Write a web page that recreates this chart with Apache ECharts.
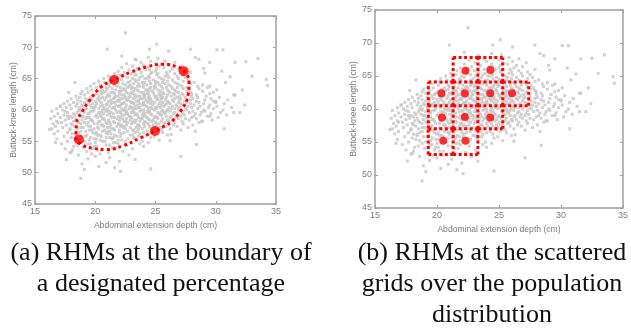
<!DOCTYPE html>
<html>
<head>
<meta charset="utf-8">
<script src="https://cdn.jsdelivr.net/npm/echarts@6/dist/echarts.min.js"></script>
<style>
  html, body { margin: 0; padding: 0; background: #fff; }
  #chart { width: 631px; height: 331px; }
</style>
</head>
<body>
<div id="chart"></div>
<script>
// axis ticks (both panels share them)
const xTicks = [15, 20, 25, 30, 35];
const yTicks = [45, 50, 55, 60, 65, 70, 75];
const xName = 'Abdominal extension depth (cm)';
const yName = 'Buttock-knee length (cm)';
const captions = [
  '(a) RHMs at the boundary of\na designated percentage',
  '(b) RHMs at the scattered\ngrids over the population\ndistribution'
];

// population cloud: [buttock-knee length, [abdominal depths]]
const popRows = [
  [51.0, [20.3]],
  [51.4, [18.9]],
  [51.8, [22.0]],
  [52.2, [19.4]],
  [52.4, [21.2]],
  [52.6, [20.0]],
  [52.8, [18.6, 22.8]],
  [53.0, [19.7, 20.4]],
  [53.2, [17.9, 21.1]],
  [53.4, [19.3, 22.3]],
  [53.6, [18.1, 20.2, 20.5]],
  [53.8, [17.5, 19.8, 23.1]],
  [54.0, [19.0, 21.4, 21.7]],
  [54.2, [18.2, 19.9, 20.1, 24.0]],
  [54.4, [18.5, 20.9, 21.2, 22.6]],
  [54.6, [17.2, 19.4, 19.6, 21.9, 23.7]],
  [54.8, [18.8, 20.0, 21.5, 21.7, 24.4]],
  [55.0, [17.7, 19.1, 20.6, 20.8, 22.5, 23.9]],
  [55.2, [18.6, 19.5, 20.4, 21.9, 22.2, 25.3]],
  [55.4, [16.8, 18.3, 19.9, 20.1, 21.4, 22.7, 23.3]],
  [55.6, [18.0, 19.6, 20.9, 21.2, 21.5, 23.2, 24.6]],
  [55.8, [17.4, 18.9, 19.2, 20.5, 21.8, 22.1, 23.6, 24.9]],
  [56.0, [18.4, 19.3, 20.2, 20.4, 21.6, 22.9, 23.1, 26.0]],
  [56.2, [16.6, 18.1, 18.4, 20.0, 21.0, 21.3, 22.2, 23.7, 24.5]],
  [56.4, [17.7, 18.6, 19.8, 20.1, 20.9, 22.0, 22.4, 23.3, 24.0, 25.6]],
  [56.6, [16.9, 18.8, 19.2, 20.6, 21.1, 21.2, 22.7, 23.5, 24.3, 25.1]],
  [56.8, [17.9, 19.5, 19.7, 20.8, 21.6, 22.0, 23.1, 23.2, 24.8, 25.5, 27.1]],
  [57.0, [16.4, 17.9, 18.5, 19.9, 20.3, 21.4, 21.5, 22.5, 23.6, 23.9, 24.6, 26.2]],
  [57.2, [17.3, 18.8, 19.0, 20.2, 21.0, 21.2, 22.3, 22.9, 23.4, 24.9, 25.4, 27.7]],
  [57.4, [16.7, 18.3, 19.5, 19.6, 20.7, 21.8, 22.1, 22.4, 23.7, 24.1, 24.5, 25.9, 26.8]],
  [57.6, [17.6, 18.1, 19.3, 20.5, 20.6, 21.3, 22.2, 22.6, 23.5, 23.6, 24.8, 25.1, 26.5, 28.1]],
  [57.8, [16.5, 18.0, 18.8, 19.9, 20.2, 21.0, 21.9, 22.0, 23.0, 24.0, 24.4, 25.3, 25.7, 27.3]],
  [58.0, [17.2, 18.6, 19.1, 19.4, 20.9, 21.2, 21.6, 22.7, 23.1, 23.3, 24.2, 25.0, 25.8, 26.6, 28.6]],
  [58.2, [16.8, 18.2, 18.5, 19.8, 20.3, 20.4, 21.5, 22.4, 22.5, 23.7, 24.1, 24.7, 25.5, 26.1, 27.2, 28.9]],
  [58.4, [17.5, 18.9, 19.6, 19.7, 20.8, 21.1, 22.0, 22.9, 23.2, 23.4, 24.5, 24.8, 26.0, 26.4, 27.8, 29.7]],
  [58.6, [16.3, 17.8, 18.4, 19.2, 20.6, 20.7, 21.8, 22.3, 22.6, 23.8, 23.9, 24.4, 25.2, 25.6, 26.9, 27.5, 28.4]],
  [58.8, [17.1, 18.1, 19.3, 19.5, 20.2, 21.4, 21.6, 22.1, 23.0, 23.6, 24.3, 24.9, 25.1, 26.2, 26.7, 28.0, 30.2]],
  [59.0, [16.6, 17.7, 18.9, 19.0, 20.0, 20.5, 21.3, 21.9, 22.8, 22.9, 24.0, 24.2, 25.0, 25.9, 26.3, 27.1, 28.2, 29.3]],
  [59.2, [17.4, 18.3, 18.7, 20.1, 20.4, 21.0, 22.2, 22.4, 23.3, 23.5, 23.9, 24.7, 25.4, 25.5, 26.8, 27.4, 28.7, 30.9]],
  [59.4, [16.9, 18.2, 19.4, 19.5, 20.7, 21.2, 21.5, 22.6, 22.7, 23.4, 24.1, 24.6, 25.3, 25.8, 26.5, 27.2, 28.3, 29.6]],
  [59.6, [17.7, 18.5, 19.1, 20.3, 20.5, 21.3, 21.8, 22.1, 23.0, 23.2, 24.0, 24.4, 25.2, 25.7, 26.6, 27.8, 28.8, 30.4, 32.0]],
  [59.8, [16.4, 17.5, 18.8, 19.6, 19.8, 20.9, 21.1, 22.0, 22.5, 22.6, 23.7, 24.3, 24.5, 25.5, 25.9, 26.2, 27.3, 28.1, 29.1]],
  [60.0, [17.3, 18.6, 18.8, 19.9, 20.6, 20.8, 21.7, 22.3, 22.4, 23.1, 23.8, 24.0, 24.9, 25.6, 26.0, 26.9, 27.6, 29.0, 30.6]],
  [60.2, [16.8, 18.0, 19.2, 19.3, 20.3, 21.0, 21.4, 22.2, 22.8, 23.2, 23.4, 24.4, 24.7, 25.1, 26.3, 26.6, 27.5, 28.5, 29.8]],
  [60.4, [17.6, 18.7, 19.7, 19.9, 20.7, 21.5, 21.6, 22.5, 23.0, 23.6, 23.7, 24.6, 25.0, 25.4, 26.1, 27.0, 28.0, 29.4, 31.3]],
  [60.6, [17.1, 18.4, 19.0, 20.0, 20.4, 21.2, 21.9, 22.0, 22.9, 23.3, 24.2, 24.3, 25.2, 25.7, 26.4, 26.8, 27.7, 28.7, 30.1]],
  [60.8, [17.9, 18.9, 19.6, 20.6, 20.9, 21.7, 22.1, 22.6, 23.5, 23.9, 24.1, 24.8, 25.5, 25.8, 26.7, 27.3, 28.2, 29.5, 32.4]],
  [61.0, [17.4, 18.5, 19.8, 20.1, 21.0, 21.3, 22.2, 22.3, 23.2, 23.7, 24.0, 24.6, 25.3, 25.9, 26.2, 27.1, 27.9, 29.0, 30.7]],
  [61.2, [18.2, 19.1, 19.4, 20.5, 21.4, 21.6, 22.4, 23.0, 23.1, 24.0, 24.4, 24.9, 25.6, 26.1, 26.9, 27.6, 28.6, 30.0]],
  [61.4, [17.7, 18.8, 20.0, 20.3, 21.1, 21.8, 22.0, 22.9, 23.4, 23.6, 24.3, 24.7, 25.4, 26.0, 26.5, 27.4, 28.4, 29.8]],
  [61.6, [18.5, 19.4, 19.7, 20.8, 21.3, 21.9, 22.6, 22.7, 23.6, 24.2, 24.5, 25.1, 25.8, 26.4, 27.0, 27.9, 29.1, 31.0]],
  [61.8, [18.0, 19.2, 20.2, 20.4, 21.5, 22.1, 22.3, 23.2, 23.8, 23.9, 24.6, 25.2, 25.5, 26.6, 27.1, 28.1, 29.6]],
  [62.0, [18.7, 19.6, 20.6, 20.9, 21.6, 22.5, 22.8, 23.3, 24.1, 24.4, 25.0, 25.6, 25.9, 26.8, 27.5, 28.5, 30.3]],
  [62.2, [18.4, 19.8, 20.3, 21.2, 21.7, 21.9, 22.9, 23.5, 23.7, 24.5, 25.1, 25.4, 26.3, 27.0, 28.0, 29.2]],
  [62.4, [19.1, 19.9, 21.0, 21.1, 22.2, 22.4, 23.3, 24.0, 24.1, 24.9, 25.5, 26.0, 26.6, 27.3, 28.4, 31.5]],
  [62.6, [18.8, 20.1, 20.5, 21.6, 22.0, 22.8, 23.1, 24.3, 24.4, 25.3, 25.7, 26.5, 27.2, 28.0, 29.5]],
  [62.8, [19.4, 20.7, 21.3, 21.5, 22.6, 23.0, 23.8, 24.0, 24.8, 25.6, 26.2, 26.9, 27.9, 29.8]],
  [63.0, [18.9, 20.4, 20.9, 22.0, 22.1, 23.2, 23.6, 24.4, 24.7, 25.4, 26.1, 26.7, 27.6, 28.9]],
  [63.2, [19.7, 20.6, 21.7, 22.3, 22.5, 23.5, 24.2, 24.3, 25.2, 26.0, 26.6, 27.8, 30.1]],
  [63.4, [19.3, 21.0, 21.4, 22.4, 23.0, 23.3, 24.5, 24.9, 25.6, 26.4, 27.3, 28.6]],
  [63.6, [20.1, 20.9, 22.1, 22.7, 23.1, 24.0, 24.6, 25.0, 25.9, 26.8, 27.6, 29.3]],
  [63.8, [19.6, 21.2, 21.8, 22.8, 23.5, 23.7, 24.9, 25.5, 26.3, 27.2, 28.5]],
  [64.0, [20.4, 21.6, 22.5, 22.9, 24.0, 24.3, 25.3, 26.1, 27.0, 28.9]],
  [64.2, [19.9, 21.1, 22.3, 23.2, 23.6, 24.6, 25.0, 25.8, 26.8, 27.9]],
  [64.4, [20.8, 21.9, 22.7, 23.9, 24.1, 25.2, 25.6, 26.6, 28.2]],
  [64.6, [20.3, 21.8, 22.9, 23.4, 24.5, 25.0, 26.0, 27.3]],
  [64.8, [21.2, 22.2, 23.3, 23.6, 24.8, 25.7, 26.4, 27.7]],
  [65.0, [20.7, 22.0, 23.1, 24.1, 24.3, 25.5, 26.9]],
  [65.2, [21.5, 22.7, 23.7, 24.5, 25.3, 26.1, 27.5]],
  [65.4, [21.1, 22.4, 23.9, 24.4, 25.8, 26.8]],
  [65.6, [22.0, 23.3, 23.4, 25.1, 26.0, 27.3]],
  [65.8, [21.6, 23.0, 24.6, 25.2, 26.6]],
  [66.0, [22.4, 23.8, 24.7, 25.9, 27.9]],
  [66.2, [21.9, 23.3, 25.0, 26.2]],
  [66.4, [22.8, 24.2, 24.5, 26.9]],
  [66.6, [23.5, 25.1, 26.4]],
  [66.8, [22.2, 24.4, 25.7]],
  [67.0, [23.1, 25.3, 27.2]],
  [67.2, [24.0, 26.1]],
  [67.4, [22.6, 25.0]],
  [67.6, [23.8, 26.6]],
  [67.8, [24.6, 25.8]],
  [68.0, [23.4]],
  [68.2, [25.2]]
];

// stray points outside the main cloud: [depth, length]
const popStray = [
  [22.5, 72.3], [21.0, 69.7], [22.2, 68.6], [24.5, 69.7], [24.4, 68.4], [23.3, 68.1],
  [25.1, 70.5], [26.1, 69.4], [27.9, 69.7], [30.1, 69.6], [30.6, 69.6], [28.3, 68.4],
  [28.6, 68.1], [31.6, 67.6], [33.5, 68.2], [33.0, 65.4], [34.3, 63.9], [32.2, 63.2],
  [31.6, 62.4], [30.8, 64.4], [31.2, 65.3], [30.5, 66.2], [29.5, 63.8], [30.0, 61.4],
  [31.5, 59.6], [30.7, 57.0], [28.8, 58.2], [28.3, 56.6], [27.1, 52.6], [28.4, 54.5],
  [26.2, 55.1], [26.3, 56.1], [17.8, 62.8], [17.1, 60.6], [16.2, 56.9], [16.7, 54.8],
  [17.6, 52.1], [18.8, 49.1], [19.1, 50.5], [21.6, 50.8], [20.9, 51.6], [23.3, 52.1],
  [18.0, 53.2], [16.9, 58.0], [17.9, 59.0], [24.6, 50.6], [22.1, 50.2], [29.0, 66.6],
  [18.3, 64.4], [32.5, 67.7], [29.5, 67.6], [34.2, 64.9], [29.1, 65.9], [29.5, 59.0]
];

// (a) designated-percentage boundary and its RHMs
const boundary = [
  [26.2, 57.9], [25.0, 56.7], [23.7, 55.5], [22.3, 54.3], [20.95, 53.7], [19.8, 53.9],
  [18.85, 54.5], [18.4, 55.5], [18.45, 57.9], [18.9, 59.7], [19.55, 61.6], [20.5, 63.7],
  [21.55, 64.8], [22.9, 66.0], [24.3, 66.9], [25.65, 67.3], [26.75, 66.9], [27.4, 66.2],
  [27.78, 64.3], [27.7, 62.4], [27.15, 60.0], [26.2, 57.9]
];
const rhmBoundary = [[18.65, 55.3], [21.56, 64.8], [24.96, 56.66], [27.34, 66.2]];

// (b) grid cell edges, occupied cells [col, row] and the RHMs inside them
const gridEdgesX = [19.3, 21.3, 23.3, 25.3, 27.4];
const gridEdgesY = [53.1, 57.0, 60.5, 64.1, 67.8];
const gridCells = [[1, 3], [2, 3], [0, 2], [1, 2], [2, 2], [3, 2], [0, 1], [1, 1], [2, 1], [0, 0], [1, 0]];
const rhmGrid = [
  [22.3, 65.8], [24.3, 65.9],
  [20.35, 62.4], [22.25, 62.4], [24.3, 62.4], [26.05, 62.4],
  [20.4, 58.7], [22.25, 58.8], [24.3, 58.7],
  [20.5, 55.2], [22.3, 55.2]
];

const RED = '#ff0000';
const DOT_GRAY = '#c6c6c6';
const AXIS_GRAY = '#a0a0a0';
const LABEL_GRAY = '#7c7c7c';
const SANS = 'Liberation Sans, Arial, sans-serif';

const population = popRows.flatMap(([y, xs]) => xs.map(x => [x, y])).concat(popStray);

// unique dotted segments of the grid cells, so shared edges are drawn once
const gridSegments = [];
const seen = new Set();
gridCells.forEach(([c, r]) => {
  const x0 = gridEdgesX[c], x1 = gridEdgesX[c + 1];
  const y0 = gridEdgesY[r], y1 = gridEdgesY[r + 1];
  [[x0, y0, x1, y0], [x0, y1, x1, y1], [x0, y0, x0, y1], [x1, y0, x1, y1]].forEach(s => {
    const key = s.join(',');
    if (!seen.has(key)) {
      seen.add(key);
      gridSegments.push(s);
    }
  });
});

// one labelled axis plus a mirrored one for the box with ticks
function makeAxes(gridIndex, ticks, name, nameGap, pos, mirrorPos) {
  const base = {
    type: 'value',
    gridIndex: gridIndex,
    min: ticks[0],
    max: ticks[ticks.length - 1],
    interval: ticks[1] - ticks[0],
    axisLine: { show: true, onZero: false, lineStyle: { color: AXIS_GRAY, width: 1.5 } },
    axisTick: { show: true, inside: true, length: 3, lineStyle: { color: AXIS_GRAY } },
    splitLine: { show: false }
  };
  return [
    Object.assign({}, base, {
      position: pos,
      name: name,
      nameLocation: 'middle',
      nameGap: nameGap,
      nameTextStyle: { color: LABEL_GRAY, fontSize: 8.6, fontFamily: SANS },
      axisLabel: { color: LABEL_GRAY, fontSize: 9, margin: 3, fontFamily: SANS }
    }),
    Object.assign({}, base, { position: mirrorPos, axisLabel: { show: false } })
  ];
}

function cloud(axisIndex) {
  return {
    type: 'scatter',
    xAxisIndex: axisIndex,
    yAxisIndex: axisIndex,
    data: population,
    symbol: 'rect',
    symbolSize: 3,
    itemStyle: { color: DOT_GRAY },
    silent: true,
    z: 1
  };
}

function rhm(axisIndex, data, size) {
  return {
    type: 'scatter',
    xAxisIndex: axisIndex,
    yAxisIndex: axisIndex,
    data: data,
    symbol: 'circle',
    symbolSize: size,
    itemStyle: { color: RED },
    z: 4
  };
}

const chart = echarts.init(document.getElementById('chart'), null, { renderer: 'canvas' });

chart.setOption({
  animation: false,
  backgroundColor: '#fff',
  title: captions.map((t, i) => ({
    text: t,
    left: i === 0 ? 161 : 492,
    top: 238,
    padding: 0,
    textAlign: 'center',
    textStyle: {
      fontFamily: 'Liberation Serif, Times New Roman, serif',
      fontSize: 26,
      fontWeight: 'normal',
      color: '#111',
      lineHeight: 31
    }
  })),
  grid: [
    { left: 35, top: 16, width: 241, height: 188 },
    { left: 375, top: 10, width: 255, height: 198 }
  ],
  xAxis: [
    ...makeAxes(0, xTicks, xName, 13, 'bottom', 'top'),
    ...makeAxes(1, xTicks, xName, 13, 'bottom', 'top')
  ],
  yAxis: [
    ...makeAxes(0, yTicks, yName, 16, 'left', 'right'),
    ...makeAxes(1, yTicks, yName, 17, 'left', 'right')
  ],
  series: [
    cloud(0),
    {
      type: 'line',
      xAxisIndex: 0,
      yAxisIndex: 0,
      data: boundary,
      smooth: 0.5,
      symbol: 'none',
      lineStyle: { color: RED, width: 3, type: [3, 3], cap: 'butt' },
      z: 3
    },
    rhm(0, rhmBoundary, 10),
    cloud(2),
    {
      type: 'custom',
      xAxisIndex: 2,
      yAxisIndex: 2,
      data: gridSegments,
      encode: { x: [0, 2], y: [1, 3] },
      renderItem: (params, api) => {
        const p1 = api.coord([api.value(0), api.value(1)]);
        const p2 = api.coord([api.value(2), api.value(3)]);
        return {
          type: 'line',
          shape: { x1: p1[0], y1: p1[1], x2: p2[0], y2: p2[1] },
          style: { stroke: RED, lineWidth: 3, lineDash: [3, 2.5] }
        };
      },
      z: 3
    },
    rhm(2, rhmGrid, 8)
  ]
});
</script>
</body>
</html>
